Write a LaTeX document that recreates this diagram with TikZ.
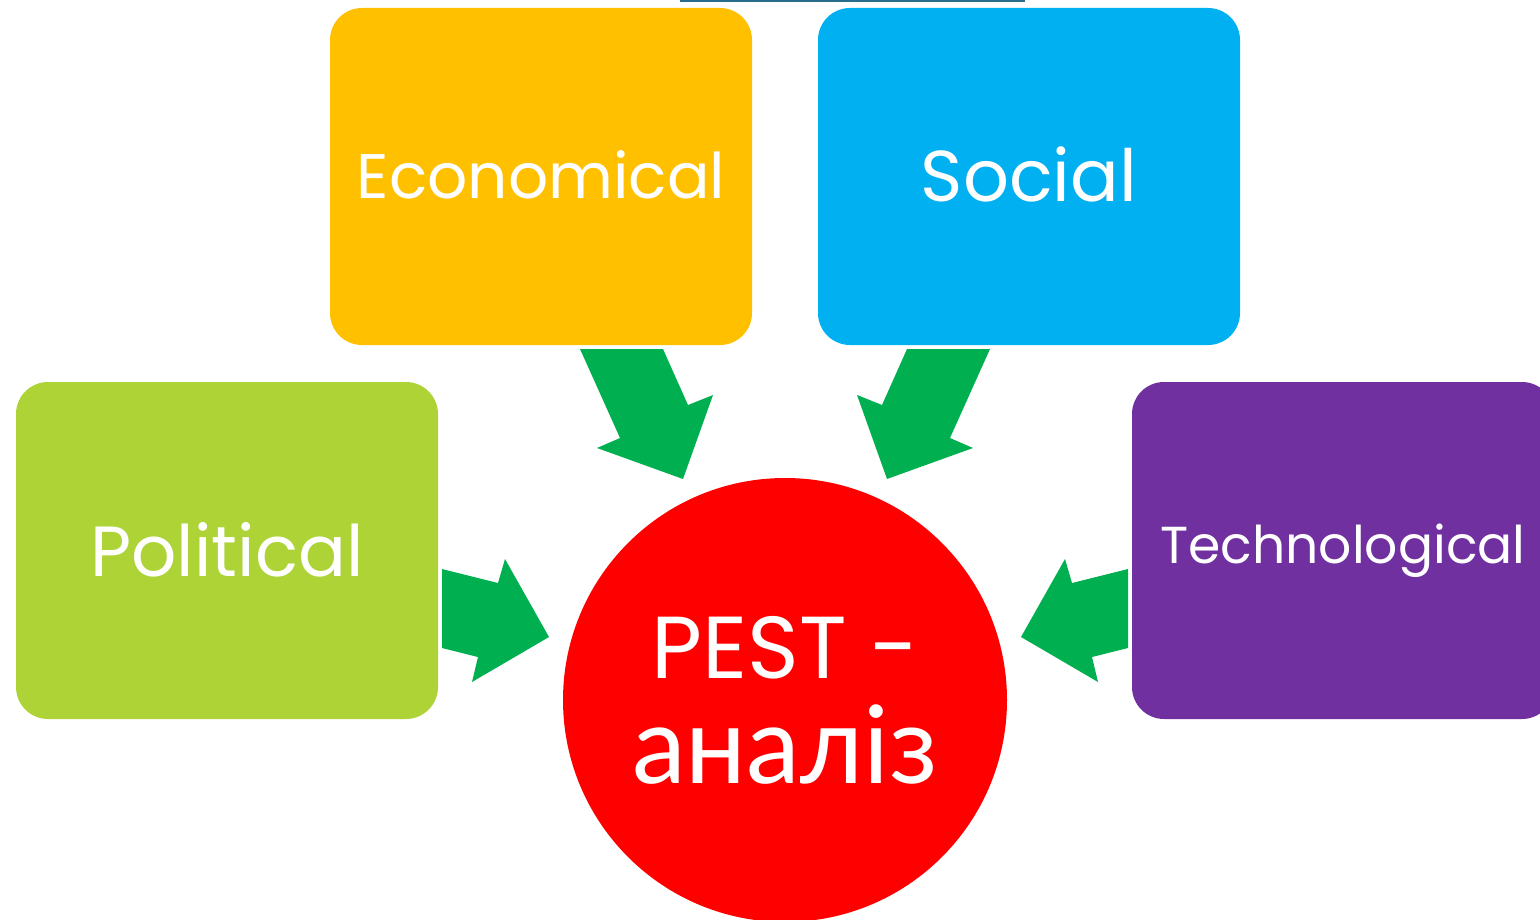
\documentclass[tikz,border=0pt]{standalone}
\usepackage{fontspec}
\setmainfont{Poppins}
\newfontfamily\cyrfont{Lato}
\usetikzlibrary{positioning}
\definecolor{ecoyellow}{RGB}{255,192,0}
\definecolor{socblue}{RGB}{0,176,240}
\definecolor{polgreen}{RGB}{173,211,54}
\definecolor{techpurple}{RGB}{112,48,160}
\definecolor{flowgreen}{RGB}{0,176,80}
\definecolor{topteal}{RGB}{40,110,140}
\tikzset{
    factor/.style={rectangle, rounded corners=32pt, minimum width=422pt, minimum height=337pt, inner sep=0pt, text=white},
    hub/.style={circle, fill=red, minimum size=444pt, inner sep=0pt, text=white, align=center},
    flow/.style={fill=flowgreen}
}
\begin{document}
\begin{tikzpicture}[x=1pt, y=-1pt]
        \useasboundingbox (0,0) rectangle (1540,920);
        \draw[topteal, line width=1.5pt] (680,0.8) -- (1025,0.8);

        \node[factor, fill=ecoyellow, font=\fontsize{63}{70}\selectfont] (economical) at (541,176.5) {\raisebox{4pt}{Economical}};
        \node[factor, fill=socblue, font=\fontsize{72}{80}\selectfont] (social) at (1029,176.5) {\raisebox{4pt}{Social}};
        \node[factor, fill=polgreen, font=\fontsize{71}{80}\selectfont] (political) at (227,550.5) {\raisebox{3pt}{Political}};
        \node[factor, fill=techpurple, font=\fontsize{52}{60}\selectfont] (technological) at (1343,550.5) {\raisebox{-4pt}{Technological}};
        \node[hub, font=\fontsize{88}{105}\selectfont] (pest) at (785,700)
            {PEST -\\{\cyrfont\fontsize{108}{105}\selectfont аналіз}};

        % block arrows towards the hub
        \fill[flow] (580,349) -- (663,349) -- (688,405) -- (713,395) -- (683,479) -- (597,448) -- (620,438) -- cycle;
        \fill[flow] (990,349) -- (907,349) -- (882,405) -- (857,395) -- (887,479) -- (973,448) -- (950,438) -- cycle;
        \fill[flow] (442,569) -- (498,583) -- (505,559) -- (549,637) -- (472,682) -- (478,657) -- (442,648) -- cycle;
        \fill[flow] (1128,569) -- (1072,583) -- (1065,559) -- (1021,637) -- (1098,682) -- (1092,657) -- (1128,648) -- cycle;
    \end{tikzpicture}
\end{document}
